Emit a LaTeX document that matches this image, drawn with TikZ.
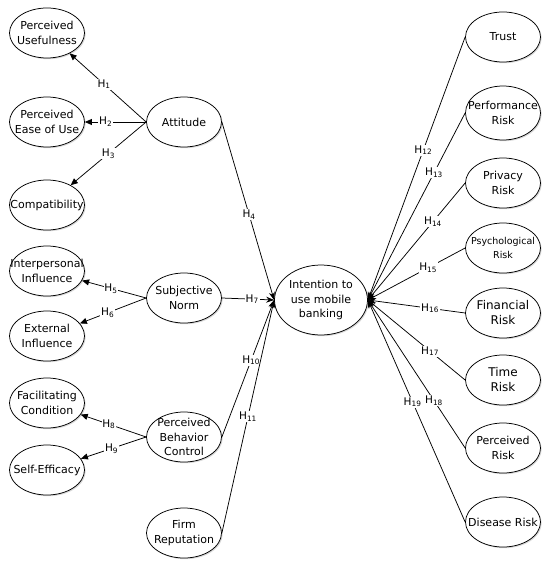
\documentclass[tikz,border=0pt]{standalone}
\usepackage{fontspec}
\setmainfont{DejaVu Sans}
\usetikzlibrary{shapes.geometric,arrows.meta,shadows}

\tikzset{
  construct/.style={ellipse,draw,fill=white,line width=0.75pt,
    minimum width=75pt,minimum height=50pt,inner xsep=-14pt,inner ysep=-7pt,
    align=center,font=\fontsize{11}{14.5}\selectfont,
    drop shadow={shadow xshift=1.2pt,shadow yshift=-1.2pt,fill=black!30}},
  hyp/.style={fill=white,inner sep=0.8pt,font=\fontsize{10.5}{12}\selectfont},
  toleft/.style={line width=0.75pt,-{Triangle[length=7pt,width=6pt]}},
  toint/.style={line width=0.75pt,-{Stealth[length=8pt,width=6pt]}},
}

\begin{document}
\begin{tikzpicture}[x=1pt,y=-1pt]
        \useasboundingbox (0,0) rectangle (550,567);
        % left column
        \node[construct] (pu) at (47,33) {Perceived\\Usefulness};
        \node[construct] (peu) at (47,122) {Perceived\\Ease of Use};
        \node[construct] (comp) at (47,205) {Compatibility};
        \node[construct] (ipi) at (47,271) {Interpersonal\\Influence};
        \node[construct] (exi) at (47,336) {External\\Influence};
        \node[construct] (fac) at (47,403) {Facilitating\\Condition};
        \node[construct] (se) at (47,470) {Self-Efficacy};
        % middle column
        \node[construct] (att) at (184,122) {Attitude};
        \node[construct] (sn) at (184,298) {Subjective\\Norm};
        \node[construct] (pbc) at (184,437) {Perceived\\Behavior\\Control};
        \node[construct] (fr) at (184,533) {Firm\\Reputation};
        % centre
        \node[construct,minimum width=93pt,minimum height=70pt] (int) at (321,300)
          {Intention to\\use mobile\\banking};
        % right column
        \node[construct] (tr) at (503,37) {Trust};
        \node[construct,minimum height=54pt] (pr) at (503,113) {Performance\\Risk};
        \node[construct] (pvr) at (503,183) {Privacy\\Risk};
        \node[construct,font=\fontsize{9.5}{14.5}\selectfont] (psr) at (503,248) {Psychological\\Risk};
        \node[construct,font=\fontsize{12}{15}\selectfont] (fir) at (503,313) {Financial\\Risk};
        \node[construct,font=\fontsize{12}{15}\selectfont] (tir) at (503,380) {Time\\Risk};
        \node[construct] (per) at (503,448) {Perceived\\Risk};
        \node[construct] (dr) at (503,522) {Disease Risk};
        % attitude
        \draw[toleft] (att.west) -- node[hyp,pos=0.55] {H\textsubscript{1}} (pu);
        \draw[toleft] (att.west) -- node[hyp,pos=0.66] {H\textsubscript{2}} (peu);
        \draw[toleft] (att.west) -- node[hyp,pos=0.5] {H\textsubscript{3}} (comp);
        % subjective norm
        \draw[toleft] (sn.west) -- node[hyp,pos=0.55] {H\textsubscript{5}} (ipi);
        \draw[toleft] (sn.west) -- node[hyp,pos=0.58] {H\textsubscript{6}} (exi);
        % perceived behavior control
        \draw[toleft] (pbc.west) -- node[hyp,pos=0.57] {H\textsubscript{8}} (fac);
        \draw[toleft] (pbc.west) -- node[hyp,pos=0.53] {H\textsubscript{9}} (se);
        % into intention, left
        \draw[toint] (att.east) -- node[hyp,pos=0.52] {H\textsubscript{4}} (int.west);
        \draw[toint] (sn.east) -- node[hyp,pos=0.58] {H\textsubscript{7}} (int.west);
        \draw[toint] (pbc.east) -- node[hyp,pos=0.56] {H\textsubscript{10}} (int.west);
        \draw[toint] (fr.east) -- node[hyp,pos=0.5] {H\textsubscript{11}} (int.west);
        % into intention, right
        \draw[toint] (tr.west) -- node[hyp,pos=0.43] {H\textsubscript{12}} (int.east);
        \draw[toint] (pr.west) -- node[hyp,pos=0.32] {H\textsubscript{13}} (int.east);
        \draw[toint] (pvr.west) -- node[hyp,pos=0.33] {H\textsubscript{14}} (int.east);
        \draw[toint] (psr.west) -- node[hyp,pos=0.38] {H\textsubscript{15}} (int.east);
        \draw[toint] (fir.west) -- node[hyp,pos=0.36] {H\textsubscript{16}} (int.east);
        \draw[toint] (tir.west) -- node[hyp,pos=0.36] {H\textsubscript{17}} (int.east);
        \draw[toint] (per.west) -- node[hyp,pos=0.32] {H\textsubscript{18}} (int.east);
        \draw[toint] (dr.west) -- node[hyp,pos=0.54] {H\textsubscript{19}} (int.east);
\end{tikzpicture}
\end{document}
